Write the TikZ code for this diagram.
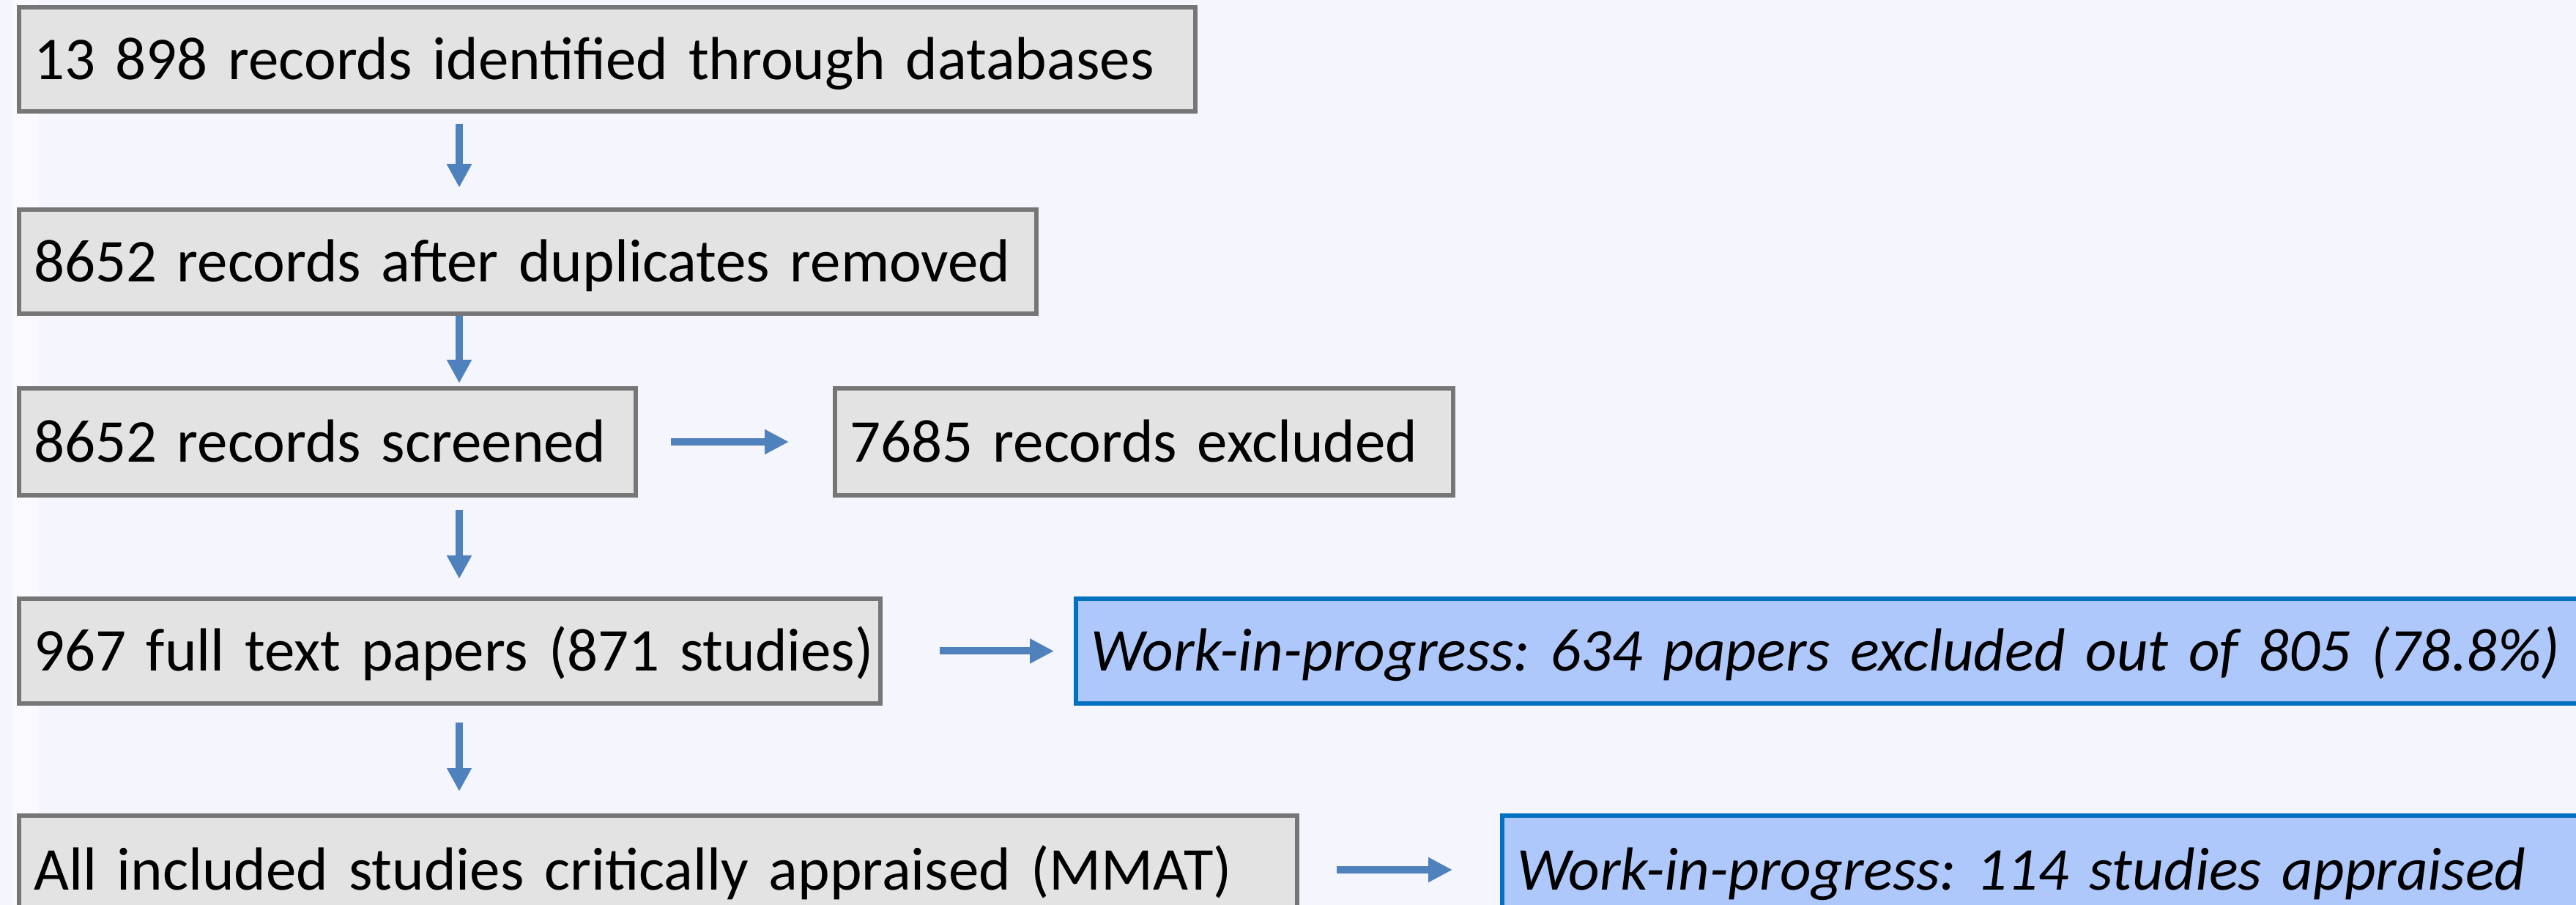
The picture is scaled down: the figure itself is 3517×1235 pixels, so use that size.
\documentclass[tikz,border=0pt]{standalone}
\usepackage{fontspec}
\setmainfont{Carlito}
\usetikzlibrary{arrows.meta,calc}
\definecolor{bgc}{HTML}{F4F5FD}
\definecolor{stripc}{HTML}{F9F9FF}
\definecolor{grayfill}{HTML}{E3E3E3}
\definecolor{grayline}{HTML}{767676}
\definecolor{bluefill}{HTML}{AEC8FC}
\definecolor{blueline}{HTML}{0070C0}
\definecolor{arrowc}{HTML}{4F81BD}
\tikzset{
  boxbase/.style={rectangle, anchor=north west, line width=1.2pt, inner xsep=4pt, inner ysep=0pt,
    align=left, text height=12.6pt, text depth=1.6pt,
    font=\fontsize{16.6pt}{20pt}\selectfont\frenchspacing},
  graybox/.style={boxbase, draw=grayline, fill=grayfill},
  bluebox/.style={boxbase, draw=blueline, fill=bluefill, font=\fontsize{16.6pt}{20pt}\selectfont\frenchspacing\itshape},
  downarrow/.style={draw=arrowc, line width=2pt, -{Triangle[width=6.4pt,length=6.4pt]}},
  rightarrow/.style={draw=arrowc, line width=2pt, -{Triangle[width=6.4pt,length=6.6pt]}}
}
\begin{document}
\begin{tikzpicture}[x=0.2pt,y=-0.2pt]
\useasboundingbox (0,0) rectangle (3517,1235);
\clip (0,0) rectangle (3517,1235);
\fill[bgc] (0,0) rectangle (3517,1235);
\fill[stripc] (18,0) rectangle (53,1235);

\coordinate (ax) at (627,0);

\node[graybox, text width=313.2pt, minimum height=28.4pt] (b1) at (23,7)
  {\mbox{13 898 records identified through databases}};
\node[graybox, text width=269.8pt, minimum height=28.4pt] (b2) at (23,283)
  {\mbox{8652 records after duplicates removed}};
\node[graybox, text width=160.4pt, minimum height=29.2pt] (b3) at (23,527)
  {\mbox{8652 records screened}};
\node[graybox, text width=160.8pt, minimum height=29.2pt] (b4) at (1137,527)
  {\mbox{7685 records excluded}};
\node[graybox, text width=227.2pt, minimum height=28.6pt] (b5) at (23,814)
  {\mbox{967 full text papers (871 studies)}};
\node[bluebox, text width=406.8pt, minimum height=28.6pt] (w1) at (1466,814)
  {\mbox{Work-in-progress: 634 papers excluded out of 805 (78.8\%)}};
\node[graybox, text width=341pt, minimum height=29.6pt] (b6) at (23,1110)
  {\mbox{All included studies critically appraised (MMAT)}};
\node[bluebox, text width=290.4pt, minimum height=29.6pt] (w2) at (2048,1110)
  {\mbox{Work-in-progress: 114 studies appraised}};

\draw[downarrow] ($(b1.south -| ax)+(0,14)$) -- ($(b2.north -| ax)+(0,-27)$);
\draw[downarrow] ($(b2.south -| ax)+(0,0)$) -- ($(b3.north -| ax)+(0,-4)$);
\draw[downarrow] ($(b3.south -| ax)+(0,17)$) -- ($(b5.north -| ax)+(0,-24)$);
\draw[downarrow] ($(b5.south -| ax)+(0,23)$) -- ($(b6.north -| ax)+(0,-30)$);

\draw[rightarrow] ($(b3.east)+(45,0)$) -- ($(b4.west)+(-60,0)$);
\draw[rightarrow] ($(b5.east)+(78,0)$) -- ($(w1.west)+(-27,0)$);
\draw[rightarrow] ($(b6.east)+(51,0)$) -- ($(w2.west)+(-65,0)$);
\end{tikzpicture}
\end{document}
